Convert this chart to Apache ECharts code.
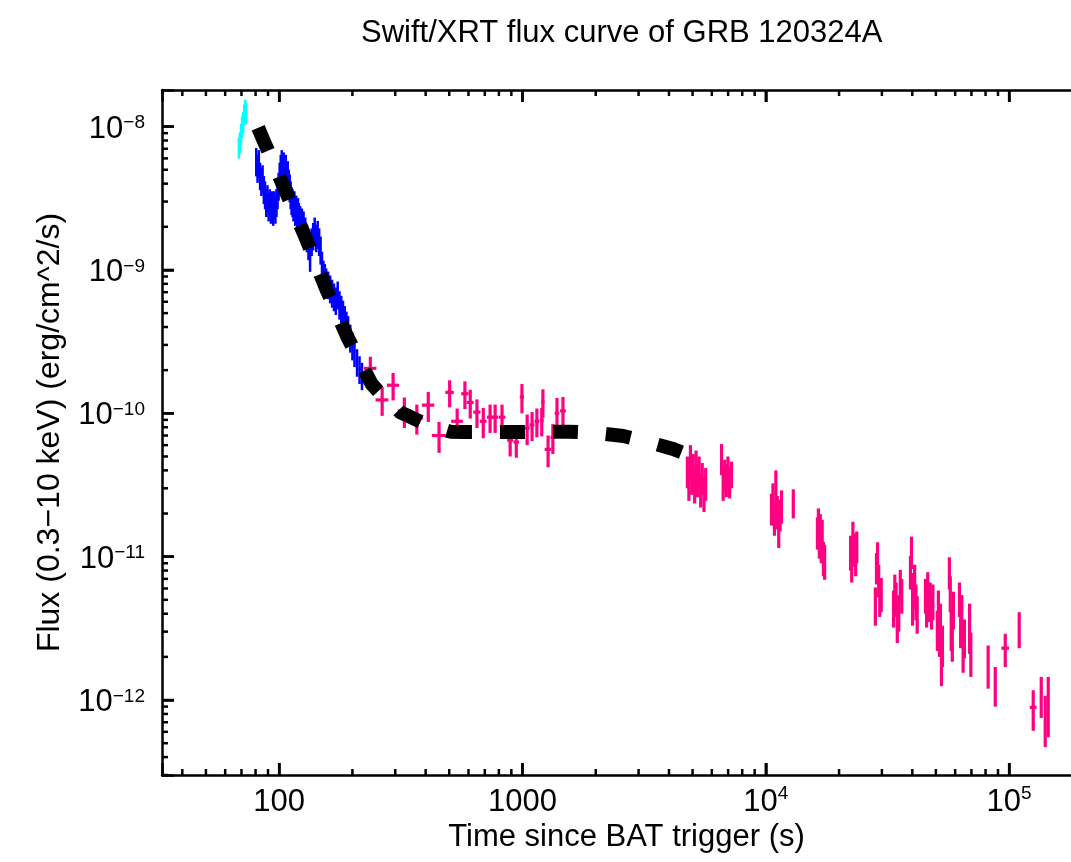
<!DOCTYPE html>
<html><head><meta charset="utf-8">
<script src="https://cdn.jsdelivr.net/npm/echarts@6/dist/echarts.min.js"></script>
<style>html,body{margin:0;padding:0;background:#fff}#chart{width:1071px;height:862px}</style>
</head><body><div id="chart"></div>
<script>
// ---------- text ----------
const titleText = 'Swift/XRT flux curve of GRB 120324A';
const xAxisTitle = 'Time since BAT trigger (s)';
const yAxisTitle = 'Flux (0.3\u221210 keV) (erg/cm^2/s)';

// ---------- axes ----------
const xRange = [33, 217000];
const yRange = [3.0e-13, 1.8e-8];
const xTickValues = [100, 1000, 10000, 100000];
const xTickLabels = ['100', '1000', '10^4', '10^5'];
const yTickValues = [1e-8, 1e-9, 1e-10, 1e-11, 1e-12];
const yTickLabels = ['10^\u22128', '10^\u22129', '10^\u221210', '10^\u221211', '10^\u221212'];
const minorMultipliers = [2, 3, 4, 5, 6, 7, 8, 9];
const xMinorDecades = [10, 100, 1000, 10000, 100000];
const yMinorDecades = [1e-13, 1e-12, 1e-11, 1e-10, 1e-9, 1e-8];

// ---------- data: rows [time (s), time half-width (s), flux, flux error] ----------
const wtSettleData = [
  [68.3, 0.35, 7.2e-9, 1.2e-9], [69.0, 0.35, 7.8e-9, 1.3e-9], [69.7, 0.35, 8.9e-9, 1.5e-9],
  [70.4, 0.35, 1.0e-8, 1.7e-9], [71.1, 0.35, 1.08e-8, 1.8e-9], [71.8, 0.35, 1.22e-8, 2.0e-9],
  [72.5, 0.35, 1.32e-8, 2.2e-9], [73.1, 0.3, 1.25e-8, 2.1e-9]
];
const wtData = [
  [80.5,0.5,5.8e-9,1.3e-9],[81.5,0.5,5.2e-9,1.15e-9],[82.5,0.5,5.6e-9,1.25e-9],[83.5,0.5,4.6e-9,1.0e-9],
  [84.5,0.5,4.2e-9,0.92e-9],[85.5,0.5,4.4e-9,0.97e-9],[86.5,0.5,3.7e-9,0.82e-9],[87.5,0.5,3.4e-9,0.75e-9],
  [88.5,0.5,3.0e-9,0.66e-9],[89.5,0.5,3.2e-9,0.7e-9],[90.5,0.5,2.8e-9,0.62e-9],[91.5,0.5,3.0e-9,0.66e-9],
  [92.5,0.5,2.7e-9,0.6e-9],[93.5,0.5,2.9e-9,0.64e-9],[94.5,0.5,2.6e-9,0.57e-9],[95.5,0.5,2.9e-9,0.64e-9],
  [96.5,0.5,2.7e-9,0.6e-9],[97.5,0.5,3.0e-9,0.66e-9],[98.5,0.5,3.4e-9,0.75e-9],[99.5,0.5,3.9e-9,0.86e-9],
  [100.5,0.5,4.6e-9,1.0e-9],[101.5,0.5,5.2e-9,1.15e-9],[102.5,0.5,5.6e-9,1.25e-9],[103.5,0.5,5.0e-9,1.1e-9],
  [104.5,0.5,5.4e-9,1.2e-9],[105.5,0.5,4.8e-9,1.05e-9],[106.5,0.5,5.2e-9,1.15e-9],[107.5,0.5,4.5e-9,1.0e-9],
  [108.5,0.5,4.7e-9,1.03e-9],[109.5,0.5,4.1e-9,0.9e-9],[110.5,0.5,3.8e-9,0.84e-9],[111.5,0.5,3.4e-9,0.75e-9],
  [112.5,0.5,3.1e-9,0.68e-9],[113.5,0.5,3.0e-9,0.66e-9],[114.5,0.5,2.8e-9,0.62e-9],[115.5,0.5,2.9e-9,0.64e-9],
  [116.5,0.5,2.6e-9,0.57e-9],[117.5,0.5,2.7e-9,0.6e-9],[118.5,0.5,2.5e-9,0.55e-9],[119.5,0.5,2.6e-9,0.57e-9],
  [120.5,0.5,2.4e-9,0.53e-9],[122,1,2.3e-9,0.5e-9],[124,1,2.2e-9,0.48e-9],[126,1,2.1e-9,0.46e-9],
  [128,1,1.9e-9,0.42e-9],[130,1,1.7e-9,0.37e-9],[132,1,1.5e-9,0.33e-9],[134,1,1.25e-9,0.28e-9],
  [136,1,1.6e-9,0.35e-9],[138,1,1.75e-9,0.38e-9],[140,1,1.9e-9,0.42e-9],[142,1,1.7e-9,0.37e-9],
  [144,1,1.8e-9,0.4e-9],[146,1,1.6e-9,0.35e-9],[148,1,1.4e-9,0.31e-9],[150,1,1.1e-9,0.24e-9],
  [152,1,9.5e-10,2.1e-10],[154,1,9.0e-10,2.0e-10],[156,1,8.4e-10,1.85e-10],[159,1.5,8.0e-10,1.75e-10],
  [162,1.5,7.5e-10,1.65e-10],[165,1.5,7.0e-10,1.55e-10],[168,1.5,6.6e-10,1.45e-10],[171,1.5,6.2e-10,1.35e-10],
  [174,1.5,6.8e-10,1.5e-10],[177,1.5,5.8e-10,1.3e-10],[180,1.5,5.4e-10,1.2e-10],[183,1.5,5.0e-10,1.1e-10],
  [186,1.5,4.6e-10,1.0e-10],[189,1.5,4.2e-10,0.92e-10],[192,1.5,3.9e-10,0.86e-10],[196,2,3.4e-10,0.75e-10],
  [200,2,3.0e-10,0.66e-10],[204,2,2.7e-10,0.6e-10],[209,2.5,2.3e-10,0.5e-10],[214,2.5,2.05e-10,0.45e-10],
  [219,2.5,1.85e-10,0.4e-10]
];
const pcData = [
  [237,14,2.06e-10,0.42e-10],[265,16,1.24e-10,0.28e-10],[294,17,1.57e-10,0.34e-10],[327,20,1.04e-10,0.25e-10],
  [368,22,9.3e-11,2.2e-11],[410,24,1.14e-10,0.27e-10],[454,30,7.0e-11,1.7e-11],[502,20,1.40e-10,0.3e-10],
  [539,30,8.8e-11,2.0e-11],[580,20,1.37e-10,0.3e-10],[610,20,1.19e-10,0.27e-10],[650,22,1.02e-10,0.23e-10],
  [690,22,8.8e-11,2.1e-11],[736,22,9.4e-11,2.1e-11],[772,22,9.4e-11,2.1e-11],[824,26,9.4e-11,2.1e-11],
  [890,25,6.5e-11,1.5e-11],[943,25,6.3e-11,1.4e-11],[995,20,1.3e-10,0.3e-10],[1045,25,7.9e-11,1.9e-11],
  [1095,25,8.3e-11,1.9e-11],[1146,25,8.8e-11,2.0e-11],[1200,22,8.9e-11,2.0e-11],[1213,20,1.2e-10,0.27e-10],
  [1274,40,5.6e-11,1.4e-11],[1333,30,6.8e-11,1.6e-11],[1386,30,1.0e-10,0.28e-10],[1467,40,1.04e-10,0.26e-10],
  [4760,40,4.0e-11,1.0e-11],[4830,35,3.3e-11,0.85e-11],[4900,35,4.8e-11,1.2e-11],[4960,30,3.6e-11,0.9e-11],
  [5030,35,4.2e-11,1.0e-11],[5100,35,3.2e-11,0.85e-11],[5170,35,4.4e-11,1.1e-11],[5240,35,3.5e-11,0.9e-11],
  [5320,40,4.0e-11,1.0e-11],[5400,40,3.0e-11,0.8e-11],[5480,40,3.6e-11,0.9e-11],[5570,45,2.8e-11,0.75e-11],
  [5660,45,3.3e-11,0.85e-11],
  [6580,40,4.9e-11,1.2e-11],[6680,40,3.3e-11,0.85e-11],[6780,45,3.8e-11,0.95e-11],[6880,45,3.5e-11,0.9e-11],
  [6990,45,4.0e-11,1.0e-11],[7100,45,3.4e-11,0.85e-11],[7230,50,3.8e-11,0.8e-11],
  [10550,60,2.2e-11,0.55e-11],[10700,60,2.6e-11,0.65e-11],[10850,60,1.9e-11,0.5e-11],[11000,60,3.2e-11,0.8e-11],
  [11150,60,2.1e-11,0.55e-11],[11300,60,1.6e-11,0.45e-11],[11450,60,2.0e-11,0.5e-11],[11600,60,2.3e-11,0.6e-11],
  [12970,90,2.4e-11,0.55e-11],
  [16300,80,1.5e-11,0.38e-11],[16450,80,1.75e-11,0.42e-11],[16600,80,1.3e-11,0.33e-11],[16750,80,1.6e-11,0.38e-11],
  [16900,80,1.2e-11,0.3e-11],[17050,80,1.45e-11,0.36e-11],[17250,90,1.0e-11,0.27e-11],[17450,90,9.5e-12,2.6e-12],
  [22300,100,1.1e-11,0.3e-11],[22550,100,9.2e-12,2.6e-12],[22800,100,1.4e-11,0.35e-11],[23100,100,1.15e-11,0.3e-11],
  [23400,100,1.0e-11,0.27e-11],[23650,100,1.2e-11,0.3e-11],
  [28200,110,4.7e-12,1.4e-12],[28500,110,8.5e-12,2.1e-12],[28800,110,1.0e-11,0.26e-11],[29100,110,7.0e-12,1.8e-12],
  [29400,110,5.2e-12,1.4e-12],[29800,110,5.6e-12,1.5e-12],
  [33500,120,4.5e-12,1.3e-12],[33900,120,6.0e-12,1.5e-12],[34300,120,5.2e-12,1.4e-12],[34700,120,3.6e-12,1.1e-12],
  [35200,120,4.2e-12,1.2e-12],[35700,120,6.5e-12,1.6e-12],[36200,120,5.5e-12,1.5e-12],
  [39300,130,8.0e-12,2.1e-12],[39700,130,1.1e-11,0.28e-11],[40100,130,4.7e-12,1.4e-12],[40500,130,6.0e-12,1.7e-12],
  [40900,130,7.0e-12,1.8e-12],[41400,130,5.0e-12,1.4e-12],[41900,130,4.1e-12,1.2e-12],
  [45300,150,5.5e-12,1.5e-12],[45800,150,4.5e-12,1.3e-12],[46300,150,6.2e-12,1.6e-12],[46800,150,4.8e-12,1.3e-12],
  [47400,150,5.2e-12,1.4e-12],[48000,150,4.4e-12,1.3e-12],[48600,150,5.0e-12,1.4e-12],
  [50700,150,3.2e-12,1.0e-12],[51200,150,4.5e-12,1.3e-12],[51700,150,2.9e-12,0.9e-12],[52200,150,3.6e-12,1.1e-12],
  [52700,150,1.9e-12,0.65e-12],[53200,150,2.5e-12,0.8e-12],
  [56800,170,7.9e-12,2.0e-12],[57300,170,5.7e-12,1.6e-12],[57800,170,3.2e-12,1.0e-12],[58400,170,2.7e-12,0.85e-12],
  [59000,170,4.4e-12,1.3e-12],
  [62500,180,5.2e-12,1.4e-12],[63200,180,3.3e-12,1.0e-12],[63900,180,4.2e-12,1.2e-12],[64700,180,2.3e-12,0.75e-12],
  [65500,180,2.8e-12,0.85e-12],
  [68800,200,3.4e-12,1.3e-12],[69600,200,2.2e-12,0.75e-12],
  [82000,500,1.8e-12,0.6e-12],[87700,600,1.3e-12,0.4e-12],[96400,3500,2.3e-12,0.6e-12],[110000,900,3.2e-12,0.9e-12],
  [125600,4000,8.9e-13,2.8e-13],[135500,1500,1.1e-12,0.35e-12],[140700,1000,7.7e-13,3.0e-13],[144800,1000,1.0e-12,0.45e-12]
];
// broken power-law fit
const fitTime = [82, 86.8, 105.8, 129.1, 156.1, 191.2, 239.9, 260, 290, 314, 350, 391, 450, 505, 565, 933, 1541, 2000, 2595, 3300, 4160, 4710];
const fitFlux = [9.8e-9, 7.82e-9, 3.62e-9, 1.65e-9, 7.37e-10, 3.38e-10, 1.60e-10, 1.38e-10, 1.18e-10, 1.02e-10, 9.35e-11, 8.55e-11, 7.9e-11, 7.45e-11, 7.4e-11, 7.4e-11, 7.45e-11, 7.3e-11, 6.95e-11, 6.3e-11, 5.64e-11, 5.2e-11];

// ---------- helpers ----------
const FONT = "'Liberation Sans', Arial, Helvetica, sans-serif";
function richLabel(s) {
  const k = s.indexOf('^');
  return k < 0 ? '{b|' + s + '}' : '{b|' + s.slice(0, k) + '}{s|' + s.slice(k + 1) + '}';
}
function makeFormatter(vals, labels) {
  return function (v) {
    const lv = Math.log10(v);
    for (let i = 0; i < vals.length; i++) {
      if (Math.abs(lv - Math.log10(vals[i])) < 1e-6) return richLabel(labels[i]);
    }
    return '';
  };
}
const richX = {
  b: { fontSize: 31, fontFamily: FONT, color: '#000', lineHeight: 36, verticalAlign: 'middle' },
  s: { fontSize: 19, fontFamily: FONT, color: '#000', lineHeight: 19, verticalAlign: 'top' }
};
const richY = {
  b: { fontSize: 31, fontFamily: FONT, color: '#000', lineHeight: 36, verticalAlign: 'bottom', padding: [8, 0, 0, 0] },
  s: { fontSize: 19, fontFamily: FONT, color: '#000', lineHeight: 19, verticalAlign: 'top', padding: [5, 0, 0, 0] }
};
function errRender(color, lw) {
  return function (params, api) {
    const t = api.value(0), dt = api.value(1), f = api.value(2), df = api.value(3);
    const c = api.coord([t, f]);
    const l = api.coord([t - dt, f]);
    const r = api.coord([t + dt, f]);
    const lo = api.coord([t, Math.max(f - df, f * 0.05)]);
    const hi = api.coord([t, f + df]);
    return { type: 'group', children: [
      { type: 'line', shape: { x1: l[0], y1: c[1], x2: r[0], y2: c[1] }, style: { stroke: color, lineWidth: lw } },
      { type: 'line', shape: { x1: c[0], y1: lo[1], x2: c[0], y2: hi[1] }, style: { stroke: color, lineWidth: lw } }
    ]};
  };
}
const xMinorTicks = [], yMinorTicks = [];
xMinorDecades.forEach(d => minorMultipliers.forEach(m => { const v = m * d; if (v > xRange[0] && v < xRange[1]) xMinorTicks.push([v, yRange[0], 6]); }));
yMinorDecades.forEach(d => minorMultipliers.forEach(m => { const v = m * d; if (v > yRange[0] && v < yRange[1]) yMinorTicks.push([xRange[0], v, 6]); }));
const xMajorTicks = xTickValues.map(v => [v, yRange[0], 12]);
const yMajorTicks = yTickValues.map(v => [xRange[0], v, 12]);
const TICKW = 2.5;
function xTickRender(params, api) {
  const p = api.coord([api.value(0), api.value(1)]);
  const len = api.value(2);
  const cs = params.coordSys;
  return { type: 'group', children: [
    { type: 'line', shape: { x1: p[0], y1: cs.y + cs.height, x2: p[0], y2: cs.y + cs.height - len }, style: { stroke: '#000', lineWidth: TICKW } },
    { type: 'line', shape: { x1: p[0], y1: cs.y, x2: p[0], y2: cs.y + len }, style: { stroke: '#000', lineWidth: TICKW } }
  ]};
}
function yTickRender(params, api) {
  const p = api.coord([api.value(0), api.value(1)]);
  const len = api.value(2);
  const cs = params.coordSys;
  return { type: 'group', children: [
    { type: 'line', shape: { x1: cs.x, y1: p[1], x2: cs.x + len, y2: p[1] }, style: { stroke: '#000', lineWidth: TICKW } },
    { type: 'line', shape: { x1: cs.x + cs.width, y1: p[1], x2: cs.x + cs.width - len, y2: p[1] }, style: { stroke: '#000', lineWidth: TICKW } }
  ]};
}

const axisLine = { show: true, onZero: false, lineStyle: { color: '#000', width: 2.5 } };
const majorTick = { show: true, inside: true, length: 12, lineStyle: { color: '#000', width: TICKW } };

const chart = echarts.init(document.getElementById('chart'), null, { renderer: 'canvas' });
chart.setOption({
  animation: false,
  backgroundColor: '#fff',
  title: {
    text: titleText, left: 356, top: 13,
    textStyle: { fontSize: 31, fontWeight: 'normal', fontFamily: FONT, color: '#000' }
  },
  grid: { left: 162, top: 90, right: -20, bottom: 87, containLabel: false, outerBoundsMode: 'none' },
  xAxis: [
    {
      type: 'log', logBase: 10, min: xRange[0], max: xRange[1], position: 'bottom',
      axisLine: axisLine, axisTick: majorTick, splitLine: { show: false }, minorTick: { show: false },
      axisLabel: { formatter: makeFormatter(xTickValues, xTickLabels), margin: 9, rich: richX, showMinLabel: true, showMaxLabel: true },
      name: xAxisTitle, nameLocation: 'middle', nameGap: 43,
      nameTextStyle: { fontSize: 31, fontFamily: FONT, color: '#000' }
    },
    {
      type: 'log', logBase: 10, min: xRange[0], max: xRange[1], position: 'top',
      axisLine: axisLine, axisTick: majorTick, splitLine: { show: false }, axisLabel: { show: false }
    }
  ],
  yAxis: [
    {
      type: 'log', logBase: 10, min: yRange[0], max: yRange[1], position: 'left',
      axisLine: axisLine, axisTick: majorTick, splitLine: { show: false }, minorTick: { show: false },
      axisLabel: { formatter: makeFormatter(yTickValues, yTickLabels), margin: 17, rich: richY },
      name: yAxisTitle, nameLocation: 'middle', nameGap: 96,
      nameTextStyle: { fontSize: 32, fontFamily: FONT, color: '#000' }
    },
    {
      type: 'log', logBase: 10, min: yRange[0], max: yRange[1], position: 'right',
      axisLine: axisLine, axisTick: majorTick, splitLine: { show: false }, axisLabel: { show: false }
    }
  ],
  series: [
    { type: 'custom', name: 'xminor', renderItem: xTickRender, data: xMinorTicks, encode: { x: 0, y: 1 }, silent: true, z: 5 },
    { type: 'custom', name: 'yminor', renderItem: yTickRender, data: yMinorTicks, encode: { x: 0, y: 1 }, silent: true, z: 5 },
    { type: 'custom', name: 'xmajor', renderItem: xTickRender, data: xMajorTicks, encode: { x: 0, y: 1 }, silent: true, z: 5 },
    { type: 'custom', name: 'ymajor', renderItem: yTickRender, data: yMajorTicks, encode: { x: 0, y: 1 }, silent: true, z: 5 },
    { type: 'custom', name: 'WT settling', renderItem: errRender('#00ffff', 2.5), data: wtSettleData, encode: { x: 0, y: 2 }, z: 2 },
    { type: 'custom', name: 'WT', renderItem: errRender('#0000ff', 2.5), data: wtData, encode: { x: 0, y: 2 }, z: 2 },
    { type: 'custom', name: 'PC', renderItem: errRender('#ff0080', 3.2), data: pcData, encode: { x: 0, y: 2 }, z: 2 },
    {
      type: 'line', name: 'fit', data: fitTime.map((t, i) => [t, fitFlux[i]]),
      showSymbol: false, smooth: false, z: 10,
      lineStyle: { color: '#000', width: 14, type: [25, 28], cap: 'butt', join: 'round' }
    }
  ]
});
</script>
</body></html>
